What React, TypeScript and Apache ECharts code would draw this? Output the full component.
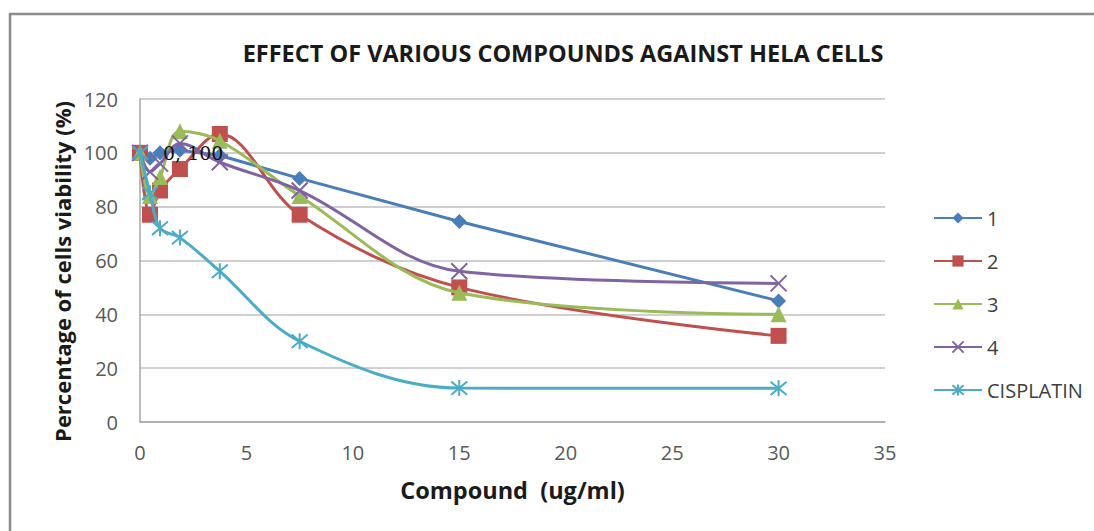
import React, { useEffect, useRef } from "react";
import * as echarts from "echarts";

const concentrations = [0, 0.47, 0.94, 1.875, 3.75, 7.5, 15, 30];
const seriesNames = ["1", "2", "3", "4", "CISPLATIN"];
const compound1 = [100, 98, 100, 101, 99, 90.5, 74.5, 45];
const compound2 = [100, 77, 86, 94, 107, 77, 50, 32];
const compound3 = [100, 84, 91, 108, 104.5, 84, 48, 40];
const compound4 = [100, 93, 96, 103.5, 96.5, 86, 56, 51.5];
const cisplatin = [100, 85, 72, 68.5, 56, 30, 12.6, 12.5];
const xTicks = [0, 5, 10, 15, 20, 25, 30, 35];
const yTicks = [0, 20, 40, 60, 80, 100, 120];

const colors = ["#4A7EBB", "#C0504D", "#9BBB59", "#8064A2", "#4BACC6"];
const symbols = [
  "diamond",
  "rect",
  "triangle",
  "path://M0,0L10,10M10,0L0,10",
  "path://M0,0L10,10M10,0L0,10M5,-1L5,11",
];
const symbolSizes = [15, 16, 16, 16, 16];
const allValues = [compound1, compound2, compound3, compound4, cisplatin];

export default function App() {
  const ref = useRef<HTMLDivElement>(null);
  useEffect(() => {
    if (!ref.current) return;
    const chart = echarts.init(ref.current, null, { renderer: "svg" });
    const series = allValues.map((vals, si) => {
      const isStroke = si >= 3;
      const labelled = si === allValues.length - 1;
      return {
        name: seriesNames[si],
        type: "line",
        smooth: si === 0 ? false : 0.35,
        symbol: symbols[si],
        symbolSize: symbolSizes[si],
        showAllSymbol: true,
        lineStyle: { color: colors[si], width: 3 },
        itemStyle: isStroke
          ? { color: colors[si], borderColor: colors[si], borderWidth: 2 }
          : { color: colors[si], borderWidth: 0 },
        z: 2 + si,
        data: vals.map((v, i) => {
          if (labelled && i === 0) {
            return {
              value: [concentrations[i], v],
              label: {
                show: true,
                formatter: "0, 100",
                position: "right",
                distance: 14,
                color: "#111",
                fontFamily: "DejaVu Serif",
                fontSize: 19,
              },
            };
          }
          return [concentrations[i], v];
        }),
      };
    });
    chart.setOption({
      animation: false,
      backgroundColor: "#ffffff",
      title: {
        text: "EFFECT OF VARIOUS COMPOUNDS AGAINST HELA CELLS",
        left: 558,
        top: 36,
        textAlign: "center",
        textStyle: {
          fontFamily: "Open Sans",
          fontWeight: "bold",
          fontSize: 23.5,
          color: "#1a1a1a",
        },
      },
      graphic: [
        {
          type: "rect",
          shape: { x: 10, y: 14, width: 1200, height: 600 },
          style: { fill: "none", stroke: "#8c8c8c", lineWidth: 2.5 },
          silent: true,
        },
      ],
      legend: {
        orient: "vertical",
        left: 933,
        top: 208,
        padding: 0,
        itemWidth: 48,
        itemHeight: 14,
        itemGap: 23,
        data: seriesNames,
        textStyle: { fontFamily: "Open Sans", fontSize: 20, color: "#404040" },
      },
      grid: { left: 140, top: 99, width: 745, height: 323, containLabel: false },
      xAxis: {
        type: "value",
        min: xTicks[0],
        max: xTicks[xTicks.length - 1],
        interval: 5,
        name: "Compound  (ug/ml)",
        nameLocation: "middle",
        nameGap: 56,
        nameTextStyle: {
          fontFamily: "Open Sans",
          fontWeight: "bold",
          fontSize: 23.5,
          color: "#1a1a1a",
        },
        axisLine: { show: true, lineStyle: { color: "#a6a6a6", width: 1.5 } },
        axisTick: { show: false },
        splitLine: { show: false },
        axisLabel: {
          margin: 20,
          fontFamily: "Open Sans",
          fontSize: 20,
          color: "#595959",
        },
      },
      yAxis: {
        type: "value",
        min: yTicks[0],
        max: yTicks[yTicks.length - 1],
        interval: 20,
        name: "Percentage of cells viability (%)",
        nameLocation: "middle",
        nameGap: 62,
        nameTextStyle: {
          fontFamily: "Open Sans",
          fontWeight: "bold",
          fontSize: 22,
          color: "#1a1a1a",
          padding: [0, 22, 0, 0],
        },
        axisLine: { show: true, lineStyle: { color: "#a6a6a6", width: 1.5 } },
        axisTick: { show: false },
        splitLine: { show: true, lineStyle: { color: "#bfbfbf", width: 1.5 } },
        axisLabel: {
          margin: 22,
          fontFamily: "Open Sans",
          fontSize: 20,
          color: "#595959",
        },
      },
      series,
    });
    return () => chart.dispose();
  }, []);
  return (
    <div
      ref={ref}
      style={{ position: "fixed", left: 0, top: 0, width: 1094, height: 531 }}
    />
  );
}
